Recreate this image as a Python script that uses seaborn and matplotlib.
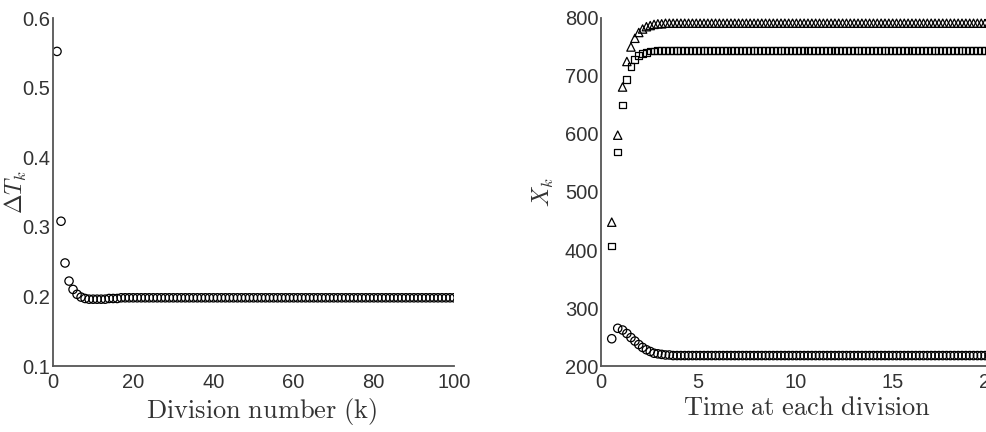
import numpy as np
import pandas as pd
import matplotlib
matplotlib.use('Agg')
import matplotlib.pyplot as plt
import seaborn as sns

# Left panel: interval length per division
division = list(range(1, 101))
delta_t = [
    0.552, 0.308, 0.248, 0.222, 0.210, 0.203, 0.199, 0.197, 0.196, 0.196,
    0.196, 0.196, 0.196, 0.197, 0.197, 0.197, 0.198, 0.198, 0.198, 0.198,
    0.198, 0.198, 0.198, 0.198, 0.198, 0.198, 0.198, 0.198, 0.198, 0.198,
    0.198, 0.198, 0.198, 0.198, 0.198, 0.198, 0.198, 0.198, 0.198, 0.198,
    0.198, 0.198, 0.198, 0.198, 0.198, 0.198, 0.198, 0.198, 0.198, 0.198,
    0.198, 0.198, 0.198, 0.198, 0.198, 0.198, 0.198, 0.198, 0.198, 0.198,
    0.198, 0.198, 0.198, 0.198, 0.198, 0.198, 0.198, 0.198, 0.198, 0.198,
    0.198, 0.198, 0.198, 0.198, 0.198, 0.198, 0.198, 0.198, 0.198, 0.198,
    0.198, 0.198, 0.198, 0.198, 0.198, 0.198, 0.198, 0.198, 0.198, 0.198,
    0.198, 0.198, 0.198, 0.198, 0.198, 0.198, 0.198, 0.198, 0.198, 0.198,
]

# Right panel: the three state values at each division
x_triangle = [
    448, 598, 681, 725, 750, 765, 775, 781, 785, 787,
    789, 790, 790, 791, 791, 791, 791, 791, 791, 791,
    791, 791, 791, 791, 791, 791, 791, 791, 791, 791,
    791, 791, 791, 791, 791, 791, 791, 791, 791, 791,
    791, 791, 791, 791, 791, 791, 791, 791, 791, 791,
    791, 791, 791, 791, 791, 791, 791, 791, 791, 791,
    791, 791, 791, 791, 791, 791, 791, 791, 791, 791,
    791, 791, 791, 791, 791, 791, 791, 791, 791, 791,
    791, 791, 791, 791, 791, 791, 791, 791, 791, 791,
    791, 791, 791, 791, 791, 791, 791, 791, 791, 791,
]
x_square = [
    407, 569, 650, 694, 716, 728, 735, 739, 741, 743,
    743, 744, 744, 744, 744, 744, 744, 744, 744, 744,
    744, 744, 744, 744, 744, 744, 744, 744, 744, 744,
    744, 744, 744, 744, 744, 744, 744, 744, 744, 744,
    744, 744, 744, 744, 744, 744, 744, 744, 744, 744,
    744, 744, 744, 744, 744, 744, 744, 744, 744, 744,
    744, 744, 744, 744, 744, 744, 744, 744, 744, 744,
    744, 744, 744, 744, 744, 744, 744, 744, 744, 744,
    744, 744, 744, 744, 744, 744, 744, 744, 744, 744,
    744, 744, 744, 744, 744, 744, 744, 744, 744, 744,
]
x_circle = [
    247, 265, 262, 256, 249, 243, 237, 232, 228, 225,
    222, 221, 220, 219, 219, 218, 218, 218, 218, 218,
    218, 218, 218, 218, 218, 218, 218, 218, 218, 218,
    218, 218, 218, 218, 218, 218, 218, 218, 218, 218,
    218, 218, 218, 218, 218, 218, 218, 218, 218, 218,
    218, 218, 218, 218, 218, 218, 218, 218, 218, 218,
    218, 218, 218, 218, 218, 218, 218, 218, 218, 218,
    218, 218, 218, 218, 218, 218, 218, 218, 218, 218,
    218, 218, 218, 218, 218, 218, 218, 218, 218, 218,
    218, 218, 218, 218, 218, 218, 218, 218, 218, 218,
]

sns.set_style('white')
plt.rcParams['font.family'] = ['Liberation Sans', 'DejaVu Sans']
plt.rcParams['mathtext.fontset'] = 'cm'

# time at each division is the running total of the intervals
time = np.cumsum(delta_t)
df = pd.DataFrame({'k': division, 'dT': delta_t, 't': time,
                   'tri': x_triangle, 'sq': x_square, 'circ': x_circle})

fig = plt.figure(figsize=(9.86, 4.32), dpi=100)
ax1 = fig.add_axes([53 / 986, 1 - 366 / 432, 401 / 986, 348 / 432])
ax2 = fig.add_axes([601 / 986, 1 - 366 / 432, 389 / 986, 348 / 432])

marker_kw = dict(facecolor='none', edgecolor='black', linewidth=0.9, legend=False)

sns.scatterplot(data=df, x='k', y='dT', marker='o', s=36, ax=ax1, **marker_kw)
sns.scatterplot(data=df, x='t', y='tri', marker='^', s=36, ax=ax2, **marker_kw)
sns.scatterplot(data=df, x='t', y='sq', marker='s', s=24, ax=ax2, **marker_kw)
sns.scatterplot(data=df, x='t', y='circ', marker='o', s=36, ax=ax2, **marker_kw)

ax1.set_xlim(0, 100)
ax1.set_ylim(0.1, 0.6)
ax1.set_xticks([0, 20, 40, 60, 80, 100])
ax1.set_yticks([0.1, 0.2, 0.3, 0.4, 0.5, 0.6])
ax1.set_xlabel(r'$\mathrm{Division\ number\ (k)}$', fontsize=19, color='#333333')
ax1.set_ylabel(r'$\Delta T_k$', fontsize=17, color='#333333')
ax1.xaxis.set_label_coords(0.52, -0.085)
ax1.yaxis.set_label_coords(-0.06, 0.5)

ax2.set_xlim(0, 20)
ax2.set_ylim(200, 800)
ax2.set_xticks([0, 5, 10, 15, 20])
ax2.set_yticks([200, 300, 400, 500, 600, 700, 800])
ax2.set_xlabel(r'$\mathrm{Time\ at\ each\ division}$', fontsize=19, color='#333333')
ax2.set_ylabel(r'$X_k$', fontsize=17, color='#333333')
ax2.xaxis.set_label_coords(0.53, -0.085)
ax2.yaxis.set_label_coords(-0.115, 0.5)

for ax in (ax1, ax2):
    ax.spines['top'].set_visible(False)
    ax.spines['right'].set_visible(False)
    for side in ('left', 'bottom'):
        ax.spines[side].set_color('#555555')
        ax.spines[side].set_linewidth(1.3)
    ax.tick_params(direction='in', length=3, width=1, color='#555555',
                   labelsize=14.5, labelcolor='#333333')
    ax.tick_params(axis='y', pad=2)
    ax.tick_params(axis='x', pad=5)

fig.savefig('out.png', dpi=100)
